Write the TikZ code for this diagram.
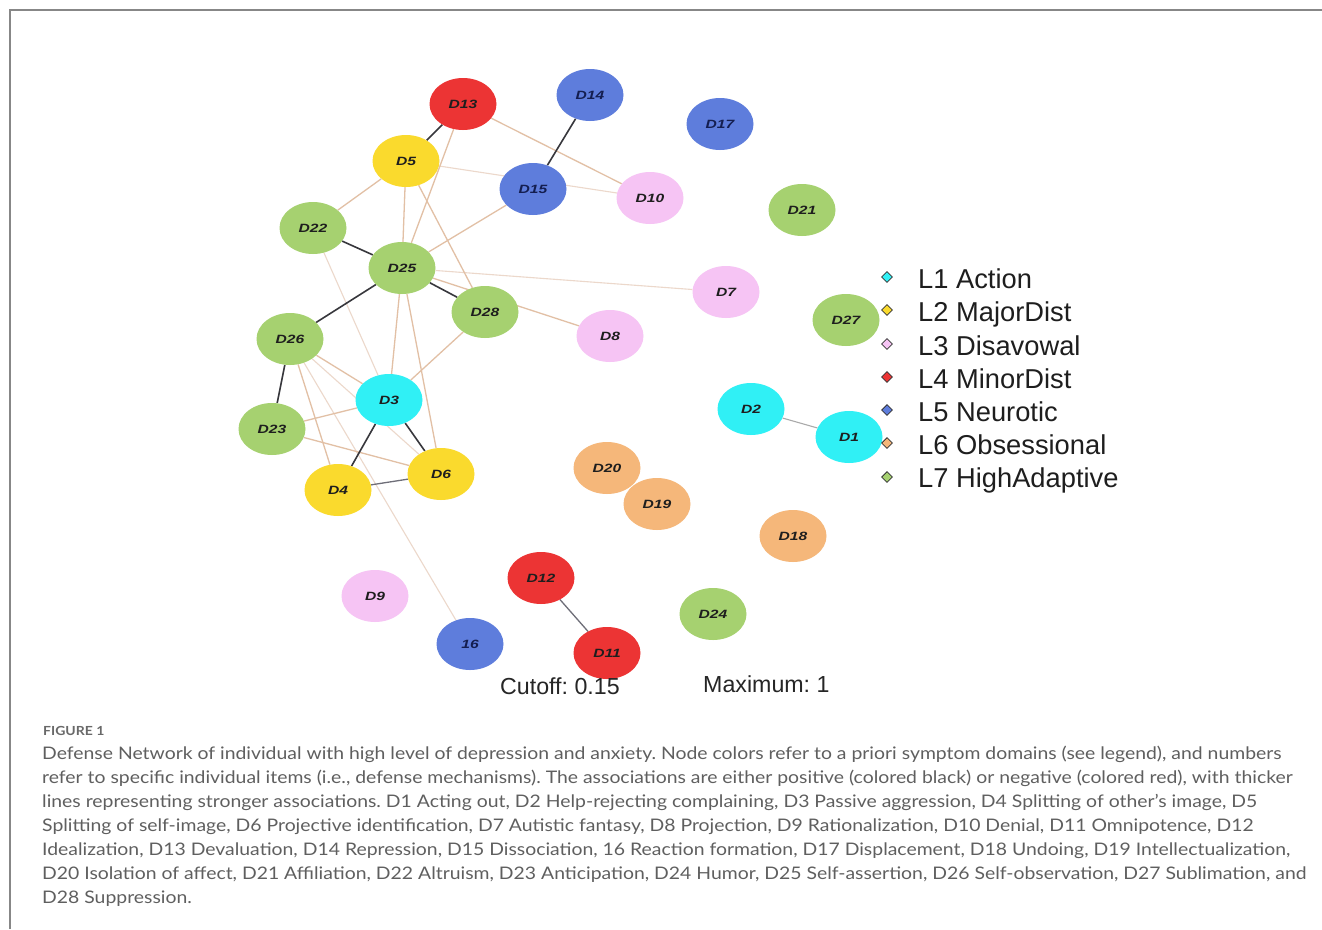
\documentclass[tikz,border=0pt]{standalone}
\usepackage{fontspec}
\setmainfont{Liberation Sans}
\newfontfamily\capfont[FakeStretch=1.12]{Lato}
\newfontfamily\nodefont[FakeStretch=1.3]{Liberation Sans}
\usetikzlibrary{shapes.geometric}
\definecolor{cgreen}{RGB}{166,209,112}
\definecolor{cyellow}{RGB}{250,218,45}
\definecolor{cred}{RGB}{236,52,52}
\definecolor{cblue}{RGB}{94,125,220}
\definecolor{cpink}{RGB}{246,196,244}
\definecolor{ccyan}{RGB}{48,240,245}
\definecolor{corange}{RGB}{245,183,122}
\definecolor{posc}{RGB}{55,55,60}
\definecolor{midc}{RGB}{110,110,120}
\definecolor{lgc}{RGB}{170,170,170}
\definecolor{tanc}{RGB}{226,192,165}
\definecolor{tanlc}{RGB}{236,216,203}
\definecolor{framec}{RGB}{135,135,135}
\definecolor{capc}{RGB}{95,95,95}
\definecolor{figc}{RGB}{105,105,105}
\definecolor{txtc}{RGB}{30,30,30}
\definecolor{navy}{RGB}{20,30,80}
\pgfdeclarelayer{back}
\pgfdeclarelayer{bg}
\pgfsetlayers{back,bg,main}
\frenchspacing
\tikzset{
  dn/.style={ellipse, minimum width=67pt, minimum height=52pt, inner sep=0pt,
    text=txtc, font=\nodefont\fontsize{12}{12}\selectfont\bfseries\itshape},
  bn/.style={dn, fill=cblue, text=navy},
  posedge/.style={line width=1.6pt, draw=posc},
  midedge/.style={line width=1.3pt, draw=midc},
  lgedge/.style={line width=1.1pt, draw=lgc},
  tanedge/.style={line width=1.3pt, draw=tanc},
  tanledge/.style={line width=1.1pt, draw=tanlc},
  legm/.style={diamond, minimum width=11pt, minimum height=11pt, inner sep=0pt, draw=black!80, line width=0.8pt},
  legt/.style={anchor=base west, inner sep=0pt, text=txtc, font=\fontsize{27.3}{27.3}\selectfont},
  cutt/.style={anchor=base west, inner sep=0pt, text=black!85, font=\fontsize{23.2}{23.2}\selectfont},
  capt/.style={anchor=base west, inner sep=0pt, text=capc, font=\capfont\fontsize{17.3}{17.3}\selectfont},
}
\begin{document}
\frenchspacing
\begin{tikzpicture}[x=1pt,y=-1pt]
\useasboundingbox (0,0) rectangle (1322,929);
\begin{pgfonlayer}{back}
\fill[white] (0,0) rectangle (1322,929);
\end{pgfonlayer}
\draw[framec, line width=1.5pt] (10,929) -- (10,10) -- (1322,10);

% nodes
\node[dn, fill=cred] (d13) at (463,104) {D13};
\node[bn] (d14) at (590,95) {D14};
\node[bn] (d17) at (720,124) {D17};
\node[dn, fill=cyellow] (d5) at (406,161) {D5};
\node[bn] (d15) at (533,189) {D15};
\node[dn, fill=cpink] (d10) at (650,198) {D10};
\node[dn, fill=cgreen] (d21) at (802,210) {D21};
\node[dn, fill=cgreen] (d22) at (313,228) {D22};
\node[dn, fill=cgreen] (d25) at (402,268) {D25};
\node[dn, fill=cpink] (d7) at (726,292) {D7};
\node[dn, fill=cgreen] (d28) at (485,312) {D28};
\node[dn, fill=cgreen] (d27) at (846,320) {D27};
\node[dn, fill=cpink] (d8) at (610,336) {D8};
\node[dn, fill=cgreen] (d26) at (290,339) {D26};
\node[dn, fill=ccyan] (d3) at (389,400) {D3};
\node[dn, fill=ccyan] (d2) at (751,409) {D2};
\node[dn, fill=ccyan] (d1) at (849,437) {D1};
\node[dn, fill=cgreen] (d23) at (272,429) {D23};
\node[dn, fill=cyellow] (d6) at (441,474) {D6};
\node[dn, fill=corange] (d20) at (607,468) {D20};
\node[dn, fill=cyellow] (d4) at (338,490) {D4};
\node[dn, fill=corange] (d19) at (657,504) {D19};
\node[dn, fill=corange] (d18) at (793,536) {D18};
\node[dn, fill=cred] (d12) at (541,578) {D12};
\node[dn, fill=cpink] (d9) at (375,596) {D9};
\node[dn, fill=cgreen] (d24) at (713,614) {D24};
\node[bn] (d16) at (470,644) {16};
\node[dn, fill=cred] (d11) at (607,653) {D11};

% edges
\begin{pgfonlayer}{bg}
\draw[tanledge] (d25) -- (d7);
\draw[tanledge] (d5) -- (d10);
\draw[tanledge] (d26) -- (d16);
\draw[tanledge] (d22) -- (d3);
\draw[tanledge] (d26) -- (d6);
\draw[tanedge] (d13) -- (d25);
\draw[tanedge] (d5) -- (d25);
\draw[tanedge] (d5) -- (d28);
\draw[tanedge] (d15) -- (d25);
\draw[tanedge] (d25) -- (d3);
\draw[tanedge] (d28) -- (d3);
\draw[tanedge] (d22) -- (d5);
\draw[tanedge] (d26) -- (d4);
\draw[tanedge] (d23) -- (d6);
\draw[tanedge] (d23) -- (d3);
\draw[tanedge] (d26) -- (d3);
\draw[tanedge] (d25) -- (d6);
\draw[tanedge] (d25) -- (d8);
\draw[tanedge] (d13) -- (d10);
\draw[lgedge] (d2) -- (d1);
\draw[midedge] (d4) -- (d6);
\draw[midedge] (d12) -- (d11);
\draw[posedge] (d13) -- (d5);
\draw[posedge] (d14) -- (d15);
\draw[posedge] (d22) -- (d25);
\draw[posedge] (d25) -- (d28);
\draw[posedge] (d25) -- (d26);
\draw[posedge] (d26) -- (d23);
\draw[posedge] (d3) -- (d4);
\draw[posedge] (d3) -- (d6);
\end{pgfonlayer}

% legend
\node[legm, fill=ccyan] (m1) at (887,277) {};
\node[legm, fill=cyellow] (m2) at (887,310) {};
\node[legm, fill=cpink] (m3) at (887,344) {};
\node[legm, fill=cred] (m4) at (887,377) {};
\node[legm, fill=cblue] (m5) at (887,410) {};
\node[legm, fill=corange] (m6) at (887,443) {};
\node[legm, fill=cgreen] (m7) at (887,477) {};
\node[legt] (l1) at (918,288) {L1 Action};
\node[legt] (l2) at (918,321) {L2 MajorDist};
\node[legt] (l3) at (918,355) {L3 Disavowal};
\node[legt] (l4) at (918,388) {L4 MinorDist};
\node[legt] (l5) at (918,421) {L5 Neurotic};
\node[legt] (l6) at (918,454) {L6 Obsessional};
\node[legt] (l7) at (918,487) {L7 HighAdaptive};

\node[cutt] (cut) at (500,694) {Cutoff: 0.15};
\node[cutt] (max) at (703,692) {Maximum: 1};

% caption
\node[anchor=base west, inner sep=0pt, text=figc, font=\capfont\bfseries\fontsize{12.5}{12.5}\selectfont] (fig) at (43,735) {FIGURE 1};
\node[capt] (c1) at (42,759) {Defense Network of individual with high level of depression and anxiety. Node colors refer to a priori symptom domains (see legend), and numbers};
\node[capt] (c2) at (42,783) {refer to specific individual items (i.e., defense mechanisms). The associations are either positive (colored black) or negative (colored red), with thicker};
\node[capt] (c3) at (42,807) {lines representing stronger associations. D1 Acting out, D2 Help-rejecting complaining, D3 Passive aggression, D4 Splitting of other’s image, D5};
\node[capt] (c4) at (42,831) {Splitting of self-image, D6 Projective identification, D7 Autistic fantasy, D8 Projection, D9 Rationalization, D10 Denial, D11 Omnipotence, D12};
\node[capt] (c5) at (42,855) {Idealization, D13 Devaluation, D14 Repression, D15 Dissociation, 16 Reaction formation, D17 Displacement, D18 Undoing, D19 Intellectualization,};
\node[capt] (c6) at (42,879) {D20 Isolation of affect, D21 Affiliation, D22 Altruism, D23 Anticipation, D24 Humor, D25 Self-assertion, D26 Self-observation, D27 Sublimation, and};
\node[capt] (c7) at (42,903) {D28 Suppression.};
\end{tikzpicture}
\end{document}
